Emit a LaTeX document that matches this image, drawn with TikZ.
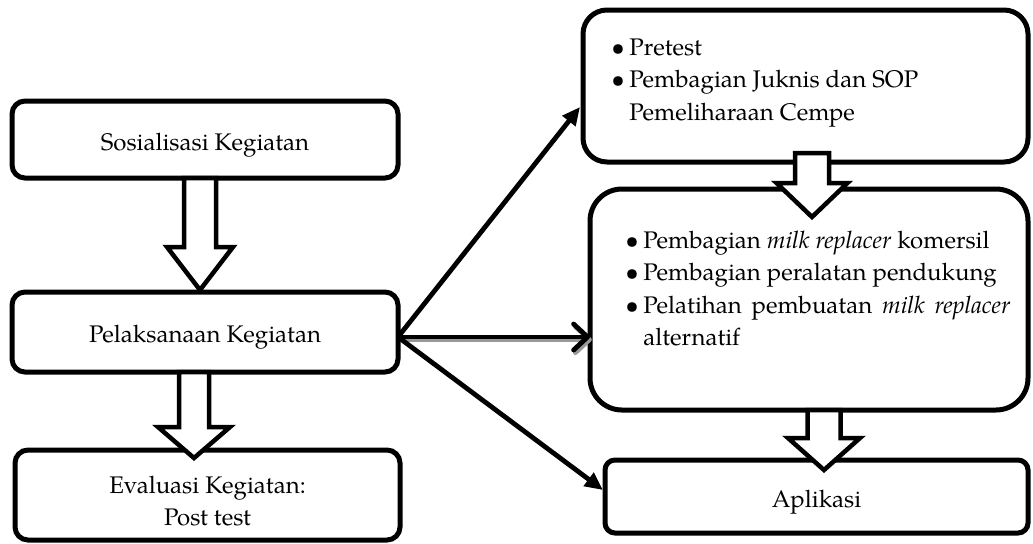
\documentclass[tikz,border=0pt]{standalone}
\usepackage{fontspec}
\setmainfont{texgyrepagella}[Extension=.otf, UprightFont=*-regular, ItalicFont=*-italic, BoldFont=*-bold, BoldItalicFont=*-bolditalic]
\usetikzlibrary{
    arrows.meta,
    calc,
    positioning
}
\newcommand{\blockdown}[5]{%
    \draw[hollow] let \p1=(#1), \p2=(#2) in
    (\x2-#4,\y1) -- (\x2+#4,\y1) -- (\x2+#4,\y2+#3) -- (\x2+#5,\y2+#3)
    -- (\x2,\y2) -- (\x2-#5,\y2+#3) -- (\x2-#4,\y2+#3) -- cycle;}
\newcommand{\bitem}[1]{\hangindent=9pt\hangafter=1\noindent\makebox[9pt][l]{\textbullet}#1\par}

\begin{document}
\begin{tikzpicture}[x=0.5pt, y=-0.5pt, font=\fontsize{12}{16.25}\selectfont,
    box/.style={draw, line width=2.5pt, outer sep=0pt, inner sep=0pt, fill=white, text height=12pt, text depth=1.5pt},
    link/.style={line width=2.4pt, -{Triangle[length=9pt,width=8pt]}},
    barb/.style={line width=2.4pt, -{Straight Barb[length=7pt,width=13pt,round]}},
    barbshadow/.style={barb, draw=black!40, transform canvas={shift={(0.9pt,-1.3pt)}}},
    hollow/.style={draw, fill=white, line width=2.25pt, line join=miter},
    list/.style={inner sep=0pt, anchor=base west}]
                                \useasboundingbox (0,0) rectangle (1033,543);
                                \node[box, rounded corners=6.5pt, minimum width=193pt, minimum height=38.5pt] (sos) at (205,139.5) {Sosialisasi Kegiatan};
                                \node[box, rounded corners=6.5pt, minimum width=193pt, minimum height=40pt] (pel) at (205,332) {Pelaksanaan Kegiatan};
                                \node[box, rounded corners=6.5pt, minimum width=192.5pt, minimum height=45pt, text depth=14pt] (eva) at (207.5,495)
                                    {\parbox[t]{180pt}{\centering Evaluasi Kegiatan:\\Post test}};
                                \node[box, rounded corners=12pt, minimum width=222.5pt, minimum height=76pt] (pre) at (805.5,86) {};
                                \node[box, rounded corners=16pt, minimum width=219pt, minimum height=110.5pt] (plk) at (809,299.5) {};
                                \node[box, rounded corners=5pt, minimum width=211.5pt, minimum height=36.5pt] (apl) at (816.5,496.5) {Aplikasi};
                                \node[list] (pret) at (611,55)
                                    {\parbox[t]{200pt}{\raggedright\bitem{Pretest}\bitem{Pembagian Juknis dan SOP\newline Pemeliharaan Cempe}}};
                                \node[list] (plkt) at (625,248)
                                    {\parbox[t]{192.5pt}{\bitem{Pembagian \textit{milk replacer} komersil}\bitem{Pembagian peralatan pendukung}\bitem{Pelatihan pembuatan \textit{milk replacer} alternatif}}};
                                \coordinate (fork) at ($(pel.east)+(0,5)$);
                                \draw[link] (fork) -- ($(pre.west)+(-3,21)$);
                                \draw[barbshadow] (fork) -- (fork -| plk.west);
                                \draw[barb] (fork) -- (fork -| plk.west);
                                \draw[link] (fork) -- ($(apl.west)+(-2,-6.5)$);
                                \blockdown{$(sos.south)+(-5,0)$}{$(pel.north)+(-5,-2)$}{21.5pt}{8pt}{16.5pt}
                                \blockdown{$(pel.south)+(-11,0)$}{$(eva.north)+(-13.5,8)$}{15.5pt}{7.5pt}{18pt}
                                \blockdown{$(pre.south)+(7,-9)$}{$(plk.north)+(3,28)$}{17pt}{8.5pt}{17.75pt}
                                \blockdown{$(plk.south)+(15,0)$}{$(apl.north)+(7.5,10)$}{16pt}{8.25pt}{18pt}
                            \end{tikzpicture}
\end{document}
